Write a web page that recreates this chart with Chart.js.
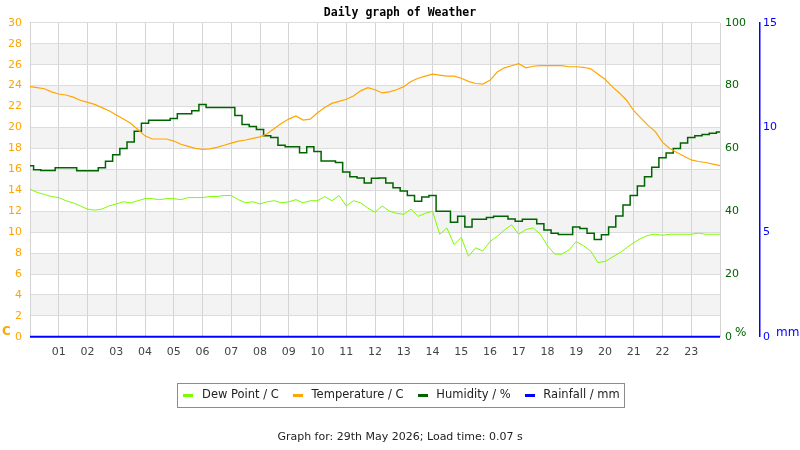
<!DOCTYPE html>
<html>
<head>
<meta charset="utf-8">
<script src="https://cdn.jsdelivr.net/npm/chart.js@4/dist/chart.umd.min.js"></script>
<style>
html, body { margin: 0; padding: 0; background: #fff; }
#wrap { width: 800px; height: 450px; }
</style>
</head>
<body>
<div id="wrap"><canvas id="weatherChart" width="800" height="450"></canvas></div>
<script>
// time of day in hours, one reading every 15 minutes
var hours = [0, 0.25, 0.5, 0.75, 1, 1.25, 1.5, 1.75, 2, 2.25, 2.5, 2.75,
    3, 3.25, 3.5, 3.75, 4, 4.25, 4.5, 4.75, 5, 5.25, 5.5, 5.75,
    6, 6.25, 6.5, 6.75, 7, 7.25, 7.5, 7.75, 8, 8.25, 8.5, 8.75,
    9, 9.25, 9.5, 9.75, 10, 10.25, 10.5, 10.75, 11, 11.25, 11.5, 11.75,
    12, 12.25, 12.5, 12.75, 13, 13.25, 13.5, 13.75, 14, 14.25, 14.5, 14.75,
    15, 15.25, 15.5, 15.75, 16, 16.25, 16.5, 16.75, 17, 17.25, 17.5, 17.75,
    18, 18.25, 18.5, 18.75, 19, 19.25, 19.5, 19.75, 20, 20.25, 20.5, 20.75,
    21, 21.25, 21.5, 21.75, 22, 22.25, 22.5, 22.75, 23, 23.25, 23.5, 23.75, 24]

var hour_labels = ["01", "02", "03", "04", "05", "06", "07", "08", "09", "10", "11", "12",
    "13", "14", "15", "16", "17", "18", "19", "20", "21", "22", "23"]

var temperature = [23.9, 23.8, 23.7, 23.4, 23.2, 23.1, 22.9, 22.6, 22.4, 22.2, 21.9, 21.6,
    21.2, 20.8, 20.4, 19.8, 19.2, 18.9, 18.9, 18.9, 18.7, 18.4, 18.2, 18.0,
    17.9, 17.95, 18.1, 18.3, 18.5, 18.7, 18.8, 18.95, 19.1, 19.4, 19.9, 20.4,
    20.8, 21.1, 20.7, 20.8, 21.4, 21.9, 22.3, 22.5, 22.7, 23.0, 23.5, 23.8,
    23.6, 23.3, 23.4, 23.6, 23.9, 24.4, 24.7, 24.9, 25.1, 25.0, 24.9, 24.9,
    24.7, 24.4, 24.2, 24.15, 24.5, 25.3, 25.7, 25.9, 26.1, 25.7, 25.85, 25.9,
    25.9, 25.9, 25.9, 25.8, 25.8, 25.75, 25.6, 25.1, 24.6, 23.9, 23.3, 22.6,
    21.6, 20.9, 20.2, 19.6, 18.6, 18.0, 17.6, 17.25, 16.9, 16.75, 16.65, 16.5, 16.35]

var dew_point = [14.1, 13.8, 13.6, 13.4, 13.3, 13.0, 12.8, 12.5, 12.2, 12.1, 12.2, 12.5,
    12.7, 12.9, 12.8, 13.0, 13.2, 13.2, 13.1, 13.2, 13.2, 13.1, 13.3, 13.3,
    13.3, 13.4, 13.4, 13.5, 13.5, 13.1, 12.8, 12.9, 12.7, 12.9, 13.0, 12.8,
    12.9, 13.1, 12.8, 13.0, 13.0, 13.4, 13.0, 13.5, 12.5, 13.0, 12.8, 12.3,
    11.9, 12.5, 12.0, 11.8, 11.7, 12.2, 11.5, 11.8, 12.0, 9.8, 10.4, 8.8,
    9.5, 7.7, 8.5, 8.2, 9.1, 9.6, 10.2, 10.7, 9.8, 10.25, 10.4, 9.8,
    8.7, 7.9, 7.9, 8.3, 9.1, 8.7, 8.2, 7.1, 7.2, 7.6, 8.0, 8.5,
    9.0, 9.4, 9.7, 9.8, 9.7, 9.8, 9.8, 9.8, 9.8, 9.9, 9.8, 9.8, 9.8]

var humidity = [54.5, 53.2, 53.0, 53.0, 53.8, 53.8, 53.8, 52.9, 52.9, 52.9, 53.8, 55.9,
    58, 60, 62, 65.5, 68, 69, 69, 69, 69.5, 71, 71, 72,
    74, 73, 73, 73, 73, 70.5, 67.6, 67, 66, 64, 63.5, 61,
    60.5, 60.5, 58.6, 60.5, 59, 56, 56, 55.5, 52.5, 51, 50.6, 49,
    50.5, 50.6, 49, 47.5, 46.4, 45, 43.2, 44.5, 45, 40, 40, 36.5,
    38.4, 35, 37.4, 37.4, 38, 38.4, 38.4, 37.5, 36.8, 37.4, 37.4, 36,
    34, 33, 32.6, 32.6, 35, 34.5, 33, 31, 32.5, 35, 38.5, 42,
    45, 48, 51, 54, 57, 58.5, 60, 61.7, 63.5, 64, 64.4, 64.8, 65.2]

var rainfall = [0, 0, 0, 0, 0, 0, 0, 0, 0, 0, 0, 0,
    0, 0, 0, 0, 0, 0, 0, 0, 0, 0, 0, 0,
    0, 0, 0, 0, 0, 0, 0, 0, 0, 0, 0, 0,
    0, 0, 0, 0, 0, 0, 0, 0, 0, 0, 0, 0,
    0, 0, 0, 0, 0, 0, 0, 0, 0, 0, 0, 0,
    0, 0, 0, 0, 0, 0, 0, 0, 0, 0, 0, 0,
    0, 0, 0, 0, 0, 0, 0, 0, 0, 0, 0, 0,
    0, 0, 0, 0, 0, 0, 0, 0, 0, 0, 0, 0, 0]

// shaded 2-degree bands on the temperature axis (lower edge of each)
var band_starts = [2, 6, 10, 14, 18, 22, 26]

function toPoints(values){
    return values.map(function(v, i){ return {x: hours[i], y: v} })
}

// short flat legend mark
function legendMark(color){
    var c = document.createElement('canvas')
    c.width = 10
    c.height = 3
    var g = c.getContext('2d')
    g.fillStyle = color
    g.fillRect(0, 0, 10, 3)
    return c
}

Chart.defaults.font.family = "'DejaVu Sans', sans-serif"
Chart.defaults.font.size = 11

var bandPlugin = {
    id: 'bands',
    beforeDraw: function(chart){
        var ctx = chart.ctx
        var area = chart.chartArea
        var y = chart.scales.yT
        ctx.save()
        ctx.fillStyle = '#ffffff'
        ctx.fillRect(0, 0, chart.width, chart.height)
        ctx.fillStyle = '#f3f3f3'
        for (var i = 0; i < band_starts.length; i++){
            var top = y.getPixelForValue(band_starts[i] + 2)
            var bottom = y.getPixelForValue(band_starts[i])
            ctx.fillRect(area.left, top, area.right - area.left, bottom - top)
        }
        ctx.restore()
    }
}

var unitsPlugin = {
    id: 'units',
    afterDraw: function(chart){
        var ctx = chart.ctx
        var bottom = chart.chartArea.bottom
        ctx.save()
        ctx.textBaseline = 'middle'
        ctx.textAlign = 'left'
        ctx.font = "bold 12px 'DejaVu Sans'"
        ctx.fillStyle = '#ffa500'
        ctx.fillText('C', chart.scales.yT.left + 2, bottom - 5)
        ctx.font = "12px 'DejaVu Sans'"
        ctx.fillStyle = '#006400'
        ctx.fillText('%', chart.scales.yH.left + 15, bottom - 4)
        ctx.fillStyle = '#0000ff'
        ctx.fillText('mm', chart.scales.yR.left + 16, bottom - 4)

        // frame round the legend
        var boxes = chart.legend.legendHitBoxes
        if (boxes && boxes.length){
            var first = boxes[0]
            var last = boxes[boxes.length - 1]
            var left = Math.round(first.left - 3) + 0.5
            var right = Math.round(last.left + last.width + 4) + 0.5
            var top = Math.round(first.top - 6) + 0.5
            ctx.strokeStyle = '#8c8c8c'
            ctx.lineWidth = 1
            ctx.strokeRect(left, top, right - left, Math.round(first.height + 12))
        }
        ctx.restore()
    }
}

var ctx = document.getElementById('weatherChart').getContext('2d')
var weatherChart = new Chart(ctx, {
    type: 'line',
    data: {
        datasets: [{
            label: 'Dew Point / C',
            data: toPoints(dew_point),
            borderColor: '#7cfc00',
            backgroundColor: '#7cfc00',
            borderWidth: 1,
            yAxisID: 'yT'
        }, {
            label: 'Temperature / C',
            data: toPoints(temperature),
            borderColor: '#ffa500',
            backgroundColor: '#ffa500',
            borderWidth: 1.2,
            yAxisID: 'yT'
        }, {
            label: 'Humidity / %',
            data: toPoints(humidity),
            borderColor: '#006400',
            backgroundColor: '#006400',
            borderWidth: 1.5,
            stepped: 'middle',
            yAxisID: 'yH'
        }, {
            label: 'Rainfall / mm',
            data: toPoints(rainfall),
            borderColor: '#0000ff',
            backgroundColor: '#0000ff',
            borderWidth: 2,
            clip: false,
            yAxisID: 'yR'
        }]
    },
    options: {
        responsive: false,
        animation: false,
        elements: { point: { radius: 0 }, line: { tension: 0 } },
        layout: { padding: 0 },
        scales: {
            x: {
                type: 'linear',
                min: 0,
                max: 24,
                afterFit: function(scale){ scale.height = 41.5 },
                ticks: {
                    stepSize: 1,
                    color: '#444444',
                    padding: 9,
                    autoSkip: false,
                    maxRotation: 0,
                    callback: function(value){
                        return hour_labels[value - 1] || ''
                    }
                },
                grid: { color: '#d4d4d4', drawTicks: false },
                border: { display: false }
            },
            yT: {
                position: 'left',
                min: 0,
                max: 30,
                afterFit: function(scale){ scale.width = 30 },
                ticks: { stepSize: 2, color: '#ffa500', padding: 8 },
                grid: { color: '#dcdcdc', drawTicks: false },
                border: { color: '#d4d4d4' }
            },
            yH: {
                position: 'right',
                min: 0,
                max: 100,
                afterFit: function(scale){ scale.width = 40 },
                ticks: { stepSize: 20, color: '#006400', padding: 5 },
                grid: { display: false, drawTicks: false },
                border: { display: false }
            },
            yR: {
                position: 'right',
                min: 0,
                max: 15,
                afterFit: function(scale){ scale.width = 40 },
                ticks: { stepSize: 5, color: '#0000ff', padding: 3 },
                grid: { display: false, drawTicks: false },
                border: { display: true, color: '#0000ff', width: 1.5 }
            }
        },
        plugins: {
            title: {
                display: true,
                text: 'Daily graph of Weather',
                color: '#000000',
                font: { family: "'DejaVu Sans Mono', monospace", size: 11.5, weight: 'bold' },
                padding: { top: 6, bottom: 3 }
            },
            subtitle: {
                display: true,
                position: 'bottom',
                text: 'Graph for: 29th May 2026; Load time: 0.07 s',
                color: '#222222',
                font: { size: 11 },
                padding: { top: 20, bottom: 6 }
            },
            legend: {
                position: 'bottom',
                labels: {
                    usePointStyle: true,
                    pointStyleWidth: 16,
                    color: '#222222',
                    padding: 11,
                    font: { size: 11.5 },
                    generateLabels: function(chart){
                        var items = Chart.defaults.plugins.legend.labels.generateLabels(chart)
                        items.forEach(function(item){
                            item.pointStyle = legendMark(item.strokeStyle)
                        })
                        return items
                    }
                }
            },
            tooltip: { enabled: false }
        }
    },
    plugins: [bandPlugin, unitsPlugin]
})
</script>
</body>
</html>
